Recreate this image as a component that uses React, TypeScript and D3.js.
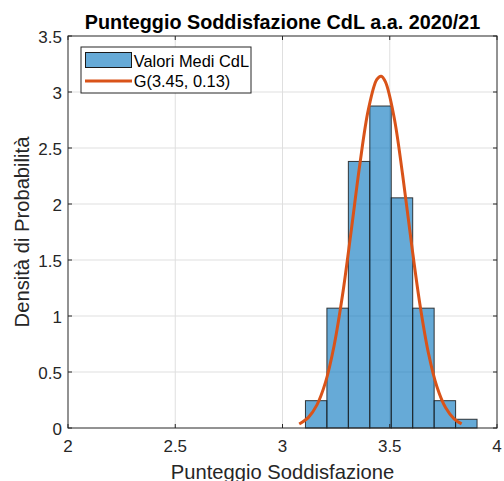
import React, { useEffect, useRef } from 'react';
import * as d3 from 'd3';

// Histogram bins (left edges, width 0.1) and densities
const binEdges = [3.107, 3.207, 3.307, 3.407, 3.507, 3.607, 3.707, 3.807];
const binWidth = 0.1;
const densities = [0.244, 1.07, 2.38, 2.875, 2.055, 1.07, 0.244, 0.078];

// Fitted normal curve
const curveX = [3.078, 3.12, 3.16, 3.2, 3.24, 3.28, 3.32, 3.36, 3.4, 3.44, 3.46, 3.48, 3.52, 3.56, 3.6, 3.64, 3.68, 3.72, 3.76, 3.8, 3.835];
const curveY = [0.036, 0.093, 0.204, 0.405, 0.73, 1.189, 1.756, 2.346, 2.84, 3.113, 3.141, 3.09, 2.777, 2.261, 1.666, 1.112, 0.672, 0.368, 0.182, 0.082, 0.037];

const xTicks = [2, 2.5, 3, 3.5, 4];
const yTicks = [0, 0.5, 1, 1.5, 2, 2.5, 3, 3.5];

const title = 'Punteggio Soddisfazione CdL a.a. 2020/21';
const xLabel = 'Punteggio Soddisfazione';
const yLabel = 'Densità di Probabilità';
const legendLabels = ['Valori Medi CdL', 'G(3.45, 0.13)'];

const App: React.FC = () => {
    const ref = useRef<SVGSVGElement>(null);

    useEffect(() => {
        if (!ref.current) return;
        const svg = d3.select(ref.current);
        svg.selectAll('*').remove();

        const width = 504;
        const height = 481;
        const margin = { top: 36, right: 7, bottom: 53, left: 68 };
        const innerW = width - margin.left - margin.right;
        const innerH = height - margin.top - margin.bottom;
        const font = 'Arial, "Liberation Sans", Helvetica, sans-serif';
        const axisColor = '#262626';

        const x = d3.scaleLinear().domain([2, 4]).range([0, innerW]);
        const y = d3.scaleLinear().domain([0, 3.5]).range([innerH, 0]);

        const g = svg.append('g').attr('transform', `translate(${margin.left},${margin.top})`);

        g.append('rect').attr('width', innerW).attr('height', innerH).attr('fill', 'white');

        // Grid
        g.selectAll('.gx')
            .data(xTicks.slice(1, -1))
            .enter()
            .append('line')
            .attr('x1', (d) => x(d))
            .attr('x2', (d) => x(d))
            .attr('y1', 0)
            .attr('y2', innerH)
            .attr('stroke', '#dfdfdf')
            .attr('stroke-width', 1);
        g.selectAll('.gy')
            .data(yTicks.slice(1, -1))
            .enter()
            .append('line')
            .attr('x1', 0)
            .attr('x2', innerW)
            .attr('y1', (d) => y(d))
            .attr('y2', (d) => y(d))
            .attr('stroke', '#dfdfdf')
            .attr('stroke-width', 1);

        // Bars
        g.selectAll('.bar')
            .data(densities)
            .enter()
            .append('rect')
            .attr('x', (d, i) => x(binEdges[i]))
            .attr('y', (d) => y(d))
            .attr('width', (d, i) => x(binEdges[i] + binWidth) - x(binEdges[i]))
            .attr('height', (d) => y(0) - y(d))
            .attr('fill', '#0072BD')
            .attr('fill-opacity', 0.6)
            .attr('stroke', '#1a1a1a')
            .attr('stroke-opacity', 0.85)
            .attr('stroke-width', 1);

        // Normal curve
        const line = d3
            .line<number>()
            .x((d, i) => x(curveX[i]))
            .y((d) => y(d))
            .curve(d3.curveCatmullRom);
        g.append('path')
            .datum(curveY)
            .attr('fill', 'none')
            .attr('stroke', '#D95319')
            .attr('stroke-width', 3)
            .attr('d', line);

        // Box and ticks
        g.append('rect')
            .attr('width', innerW)
            .attr('height', innerH)
            .attr('fill', 'none')
            .attr('stroke', axisColor)
            .attr('stroke-width', 1);
        const tl = 4;
        xTicks.forEach((t) => {
            g.append('line').attr('x1', x(t)).attr('x2', x(t)).attr('y1', innerH).attr('y2', innerH - tl).attr('stroke', axisColor);
            g.append('line').attr('x1', x(t)).attr('x2', x(t)).attr('y1', 0).attr('y2', tl).attr('stroke', axisColor);
            g.append('text')
                .attr('x', x(t))
                .attr('y', innerH + 24)
                .attr('text-anchor', 'middle')
                .attr('font-family', font)
                .attr('font-size', 17)
                .attr('fill', axisColor)
                .text(String(t));
        });
        yTicks.forEach((t) => {
            g.append('line').attr('x1', 0).attr('x2', tl).attr('y1', y(t)).attr('y2', y(t)).attr('stroke', axisColor);
            g.append('line').attr('x1', innerW).attr('x2', innerW - tl).attr('y1', y(t)).attr('y2', y(t)).attr('stroke', axisColor);
            g.append('text')
                .attr('x', -6)
                .attr('y', y(t) + 6.5)
                .attr('text-anchor', 'end')
                .attr('font-family', font)
                .attr('font-size', 17)
                .attr('fill', axisColor)
                .text(String(t));
        });

        // Labels
        svg.append('text')
            .attr('x', margin.left + innerW / 2)
            .attr('y', 29)
            .attr('text-anchor', 'middle')
            .attr('font-family', font)
            .attr('font-size', 19.8)
            .attr('font-weight', 'bold')
            .attr('fill', 'black')
            .text(title);
        svg.append('text')
            .attr('x', margin.left + innerW / 2)
            .attr('y', 479)
            .attr('text-anchor', 'middle')
            .attr('font-family', font)
            .attr('font-size', 20.2)
            .attr('fill', axisColor)
            .text(xLabel);
        svg.append('text')
            .attr('transform', `translate(28.5,${margin.top + innerH / 2}) rotate(-90)`)
            .attr('text-anchor', 'middle')
            .attr('font-family', font)
            .attr('font-size', 20.2)
            .attr('fill', axisColor)
            .text(yLabel);

        // Legend
        const lg = svg.append('g').attr('transform', 'translate(81,47)');
        lg.append('rect').attr('width', 170).attr('height', 46).attr('fill', 'white').attr('stroke', axisColor).attr('stroke-width', 1);
        lg.append('rect')
            .attr('x', 4.5)
            .attr('y', 5.5)
            .attr('width', 46)
            .attr('height', 15)
            .attr('fill', '#0072BD')
            .attr('fill-opacity', 0.6)
            .attr('stroke', '#1a1a1a')
            .attr('stroke-width', 1);
        lg.append('line').attr('x1', 4).attr('x2', 51).attr('y1', 34).attr('y2', 34).attr('stroke', '#D95319').attr('stroke-width', 3);
        legendLabels.forEach((l, i) => {
            lg.append('text')
                .attr('x', 52.7)
                .attr('y', 20 + i * 20)
                .attr('font-family', font)
                .attr('font-size', 16.4)
                .attr('fill', 'black')
                .text(l);
        });
    }, []);

    return (
        <svg
            ref={ref}
            width={504}
            height={481}
            style={{ position: 'absolute', left: 0, top: 0, background: 'white' }}
        />
    );
};

export default App;
